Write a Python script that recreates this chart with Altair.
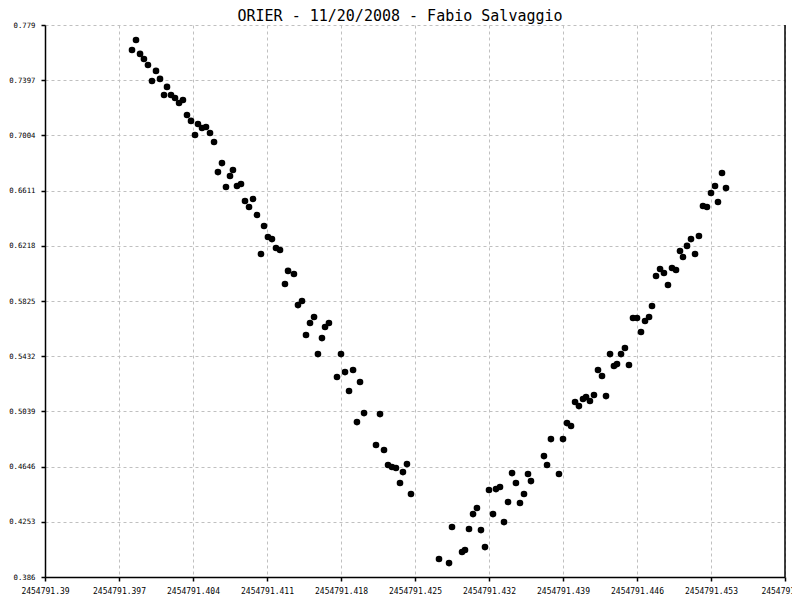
import altair as alt
import pandas as pd

# Julian dates and magnitudes
jd = [
    2454791.39823, 2454791.39861, 2454791.39899, 2454791.39936, 2454791.39974,
    2454791.40012, 2454791.40050, 2454791.40088, 2454791.40126, 2454791.40154,
    2454791.40192, 2454791.40230, 2454791.40268, 2454791.40305, 2454791.40343,
    2454791.40381, 2454791.40419, 2454791.40447, 2454791.40485, 2454791.40523,
    2454791.40561, 2454791.40599, 2454791.40636, 2454791.40674, 2454791.40712,
    2454791.40750, 2454791.40778, 2454791.40816, 2454791.40854, 2454791.40892,
    2454791.40930, 2454791.40968, 2454791.41005, 2454791.41043, 2454791.41072,
    2454791.41109, 2454791.41147, 2454791.41185, 2454791.41223, 2454791.41270,
    2454791.41299, 2454791.41355, 2454791.41393, 2454791.41431, 2454791.41469,
    2454791.41507, 2454791.41545, 2454791.41582, 2454791.41620, 2454791.41649,
    2454791.41686, 2454791.41762, 2454791.41800, 2454791.41838, 2454791.41876,
    2454791.41914, 2454791.41951, 2454791.41980, 2454791.42018, 2454791.42131,
    2454791.42169, 2454791.42207, 2454791.42245, 2454791.42282, 2454791.42320,
    2454791.42358, 2454791.42386, 2454791.42424, 2454791.42462,
    2454791.42727, 2454791.42822, 2454791.42850, 2454791.42945, 2454791.42973,
    2454791.43011, 2454791.43049, 2454791.43086, 2454791.43124, 2454791.43162,
    2454791.43200, 2454791.43238, 2454791.43266, 2454791.43304, 2454791.43342,
    2454791.43380, 2454791.43418, 2454791.43455, 2454791.43493, 2454791.43531,
    2454791.43569, 2454791.43597, 2454791.43720, 2454791.43749, 2454791.43786,
    2454791.43862, 2454791.43900, 2454791.43938, 2454791.43976, 2454791.44014,
    2454791.44051, 2454791.44089, 2454791.44118, 2454791.44155, 2454791.44193,
    2454791.44231, 2454791.44269, 2454791.44307, 2454791.44345, 2454791.44382,
    2454791.44411, 2454791.44449, 2454791.44486, 2454791.44524, 2454791.44562,
    2454791.44600, 2454791.44638, 2454791.44676, 2454791.44714, 2454791.44742,
    2454791.44780, 2454791.44818, 2454791.44855, 2454791.44893, 2454791.44931,
    2454791.44969, 2454791.45007, 2454791.45035, 2454791.45073, 2454791.45111,
    2454791.45149, 2454791.45186, 2454791.45224, 2454791.45262, 2454791.45300,
    2454791.45338, 2454791.45366, 2454791.45404, 2454791.45442,
]

mag = [
    0.7612, 0.7683, 0.7584, 0.7548, 0.7505,
    0.7391, 0.7463, 0.7406, 0.7292, 0.7349,
    0.7292, 0.7270, 0.7235, 0.7256, 0.7149,
    0.7107, 0.7007, 0.7085, 0.7057, 0.7064,
    0.7021, 0.6957, 0.6743, 0.6807, 0.6637,
    0.6715, 0.6758, 0.6644, 0.6658, 0.6537,
    0.6494, 0.6551, 0.6437, 0.6160, 0.6359,
    0.6281, 0.6266, 0.6202, 0.6188, 0.5946,
    0.6039, 0.6017, 0.5796, 0.5825, 0.5583,
    0.5668, 0.5711, 0.5447, 0.5561, 0.5640,
    0.5668, 0.5284, 0.5447, 0.5319, 0.5184,
    0.5334, 0.4963, 0.5248, 0.5027, 0.4800,
    0.5020, 0.4764, 0.4657, 0.4643, 0.4636,
    0.4529, 0.4607, 0.4664, 0.4451,
    0.3988, 0.3959, 0.4216, 0.4038, 0.4052,
    0.4202, 0.4308, 0.4351, 0.4194, 0.4073,
    0.4479, 0.4308, 0.4486, 0.4501, 0.4251,
    0.4394, 0.4600, 0.4529, 0.4387, 0.4451,
    0.4593, 0.4543, 0.4721, 0.4657, 0.4842,
    0.4593, 0.4842, 0.4956, 0.4935, 0.5106,
    0.5077, 0.5127, 0.5141, 0.5113, 0.5156,
    0.5334, 0.5291, 0.5148, 0.5447, 0.5362,
    0.5376, 0.5447, 0.5490, 0.5369, 0.5704,
    0.5704, 0.5604, 0.5683, 0.5711, 0.5789,
    0.6003, 0.6053, 0.6024, 0.5939, 0.6060,
    0.6046, 0.6181, 0.6138, 0.6217, 0.6266,
    0.6160, 0.6288, 0.6501, 0.6494, 0.6594,
    0.6644, 0.6530, 0.6736, 0.6629,
]

x_ticks = [2454791.39, 2454791.397, 2454791.404, 2454791.411, 2454791.418,
           2454791.425, 2454791.432, 2454791.439, 2454791.446, 2454791.453,
           2454791.46]
y_ticks = [0.386, 0.4253, 0.4646, 0.5039, 0.5432, 0.5825, 0.6218, 0.6611,
           0.7004, 0.7397, 0.779]

title_text = "ORIER - 11/20/2008 - Fabio Salvaggio"

df = pd.DataFrame({"jd": jd, "mag": mag})

FONT = "DejaVu Sans Mono"

x_scale = alt.Scale(domain=[x_ticks[0], x_ticks[-1]], nice=False, zero=False)
y_scale = alt.Scale(domain=[y_ticks[0], y_ticks[-1]], nice=False, zero=False)

points = alt.Chart(df).mark_circle(size=44, color="black", opacity=1).encode(
    x=alt.X("jd:Q", scale=x_scale, title=None,
            axis=alt.Axis(values=x_ticks, format=".10~g", labelPadding=6,
                          labelFontSize=8, labelFlush=False, labelOverlap=False)),
    y=alt.Y("mag:Q", scale=y_scale, title=None,
            axis=alt.Axis(values=y_ticks, format=".4~f", labelPadding=6,
                          labelFontSize=7.3, labelOverlap=False)),
)

right_line = alt.Chart(pd.DataFrame({"jd": [x_ticks[-1]]})).mark_rule(
    color="black", strokeWidth=1.5
).encode(x=alt.X("jd:Q", scale=x_scale))

chart = alt.layer(right_line, points).properties(
    width=740,
    height=552,
    autosize=alt.AutoSizeParams(type="none"),
    padding={"left": 37, "top": 17, "right": 7, "bottom": 18},
    title=alt.TitleParams(title_text, font=FONT, fontSize=15, fontWeight="normal",
                          color="black", anchor="middle", dx=-15, dy=6, offset=3),
).configure_view(
    stroke=None
).configure_axis(
    domainColor="black",
    domainWidth=1.5,
    tickColor="black",
    tickSize=4,
    tickWidth=1.5,
    labelFont=FONT,
    labelColor="black",
    grid=True,
    gridColor="#c0c0c0",
    gridDash=[3, 3],
    gridWidth=1,
)

chart.save("out.html", embed_options={"renderer": "svg", "actions": False})
